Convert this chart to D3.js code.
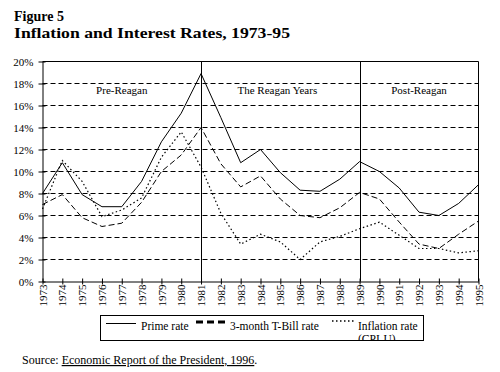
<!DOCTYPE html>
<html>
<head>
<meta charset="utf-8">
<script src="https://cdn.jsdelivr.net/npm/d3@7"></script>
<style>
  body { margin: 0; background: #fff; }
  text { font-family: "Liberation Serif", "Times New Roman", serif; fill: #000; }
</style>
</head>
<body>
<div id="chart"></div>
<script>
// chart data
var years = d3.range(1973, 1996);
var primeRate = [8.0, 10.8, 7.9, 6.8, 6.8, 9.1, 12.7, 15.3, 18.9, 14.9, 10.8, 12.0, 9.9, 8.3, 8.2, 9.3, 10.9, 10.0, 8.5, 6.3, 6.0, 7.1, 8.8];
var tBillRate = [7.0, 7.9, 5.8, 5.0, 5.3, 7.2, 10.0, 11.5, 14.0, 10.7, 8.6, 9.6, 7.5, 6.0, 5.8, 6.7, 8.1, 7.5, 5.4, 3.4, 3.0, 4.3, 5.5];
var inflationRate = [6.6, 11.0, 9.1, 5.9, 6.5, 7.6, 11.3, 13.6, 10.4, 6.2, 3.4, 4.3, 3.6, 2.0, 3.6, 4.1, 4.8, 5.4, 4.2, 3.0, 3.0, 2.6, 2.8];
var yTicks = [0, 2, 4, 6, 8, 10, 12, 14, 16, 18, 20];
var eraBreaks = [1981, 1989];
var eraLabels = ["Pre-Reagan", "The Reagan Years", "Post-Reagan"];
var eraLabelYears = [1977, 1984.85, 1992];
var seriesNames = ["Prime rate", "3-month T-Bill rate", "Inflation rate"];

var width = 500,
    height = 372;

var svg = d3.select("#chart").append("svg")
    .attr("width", width)
    .attr("height", height);

// plot scales
var x = d3.scaleLinear().domain([1973, 1995]).range([42.5, 478.5]);
var y = d3.scaleLinear().domain([0, 20]).range([281.5, 61.5]);

// titles
svg.append("text")
    .attr("x", 14).attr("y", 21)
    .style("font-size", "14px").style("font-weight", "bold")
    .text("Figure 5");
svg.append("text")
    .attr("x", 14).attr("y", 38)
    .style("font-size", "14px").style("font-weight", "bold")
    .attr("textLength", 276).attr("lengthAdjust", "spacingAndGlyphs")
    .text("Inflation and Interest Rates, 1973-95");

// dashed gridlines
svg.selectAll(".grid")
    .data(yTicks.filter(function(d) { return d > 0 && d < 20; }))
    .enter().append("line")
    .attr("class", "grid")
    .attr("x1", x(1973)).attr("x2", x(1995))
    .attr("y1", function(d) { return y(d); })
    .attr("y2", function(d) { return y(d); })
    .attr("stroke", "#000")
    .attr("stroke-dasharray", "5,3");

// frame: top and right
svg.append("path")
    .attr("fill", "none")
    .attr("stroke", "#000")
    .attr("d", "M" + x(1973) + "," + y(20) + "H" + x(1995) + "V" + y(0));

// y axis
var yAxis = d3.axisLeft(y)
    .tickValues(yTicks)
    .tickFormat(function(d) { return d + "%"; })
    .tickSizeInner(4)
    .tickSizeOuter(0)
    .tickPadding(5);
var gy = svg.append("g").attr("transform", "translate(" + x(1973) + ",0)").call(yAxis);
gy.attr("font-family", null);
gy.selectAll("text").style("font-size", "11px");
gy.selectAll(".tick line").attr("x2", 3).attr("x1", -4);

// x axis
var xAxis = d3.axisBottom(x)
    .tickValues(years)
    .tickFormat(d3.format("d"))
    .tickSizeInner(3)
    .tickSizeOuter(0);
var gx = svg.append("g").attr("transform", "translate(0," + y(0) + ")").call(xAxis);
gx.attr("font-family", null);
gx.selectAll(".tick line").attr("y1", -3).attr("y2", 3);
gx.selectAll("text")
    .style("font-size", "11px")
    .attr("text-anchor", "end")
    .attr("y", 0).attr("dy", "0.33em")
    .attr("transform", "translate(0,3) rotate(-90)");

// era dividers and labels
svg.selectAll(".era")
    .data(eraBreaks)
    .enter().append("line")
    .attr("class", "era")
    .attr("x1", function(d) { return Math.round(x(d)) + 0.5; })
    .attr("x2", function(d) { return Math.round(x(d)) + 0.5; })
    .attr("y1", y(20)).attr("y2", y(0))
    .attr("stroke", "#000");

svg.selectAll(".era-label")
    .data(eraLabels)
    .enter().append("text")
    .attr("class", "era-label")
    .attr("x", function(d, i) { return x(eraLabelYears[i]); })
    .attr("y", 94)
    .attr("text-anchor", "middle")
    .style("font-size", "11px")
    .text(function(d) { return d; });

// series lines
var line = d3.line()
    .x(function(d, i) { return x(years[i]); })
    .y(function(d) { return y(d); });

svg.append("path").datum(primeRate)
    .attr("fill", "none").attr("stroke", "#000").attr("stroke-width", 1)
    .attr("d", line);
svg.append("path").datum(tBillRate)
    .attr("fill", "none").attr("stroke", "#000").attr("stroke-width", 1)
    .attr("stroke-dasharray", "6,3")
    .attr("d", line);
svg.append("path").datum(inflationRate)
    .attr("fill", "none").attr("stroke", "#000").attr("stroke-width", 1.2)
    .attr("stroke-dasharray", "1.5,2.5")
    .attr("d", line);

// legend
var legend = svg.append("g");
legend.append("rect")
    .attr("x", 100.5).attr("y", 315.5)
    .attr("width", 323).attr("height", 25)
    .attr("fill", "#fff").attr("stroke", "#000");

// sample lines
legend.append("line")
    .attr("x1", 106).attr("x2", 136).attr("y1", 323.5).attr("y2", 323.5)
    .attr("stroke", "#000");
legend.append("line")
    .attr("x1", 196).attr("x2", 226).attr("y1", 322).attr("y2", 322)
    .attr("stroke", "#000").attr("stroke-width", 3).attr("stroke-dasharray", "7,4");
legend.append("line")
    .attr("x1", 332).attr("x2", 356).attr("y1", 321).attr("y2", 321)
    .attr("stroke", "#000").attr("stroke-width", 1.5).attr("stroke-dasharray", "1.5,2.5");

var legendX = [141, 230, 358];
legend.selectAll(".leg-text")
    .data(seriesNames)
    .enter().append("text")
    .attr("class", "leg-text")
    .attr("x", function(d, i) { return legendX[i]; })
    .attr("y", 330)
    .style("font-size", "11.5px")
    .text(function(d) { return d; });

// second line of the inflation label is cut by the box edge
svg.append("clipPath").attr("id", "legclip")
  .append("rect").attr("x", 100).attr("y", 315).attr("width", 324).attr("height", 25.5);
legend.append("text").attr("x", 358).attr("y", 342.5)
    .attr("clip-path", "url(#legclip)")
    .style("font-size", "11.5px").text("(CPI-U)");

// source note
var src = svg.append("text").attr("x", 22).attr("y", 364).style("font-size", "12px");
src.append("tspan").text("Source: ");
src.append("tspan").style("text-decoration", "underline").text("Economic Report of the President, 1996");
src.append("tspan").text(".");
</script>
</body>
</html>
